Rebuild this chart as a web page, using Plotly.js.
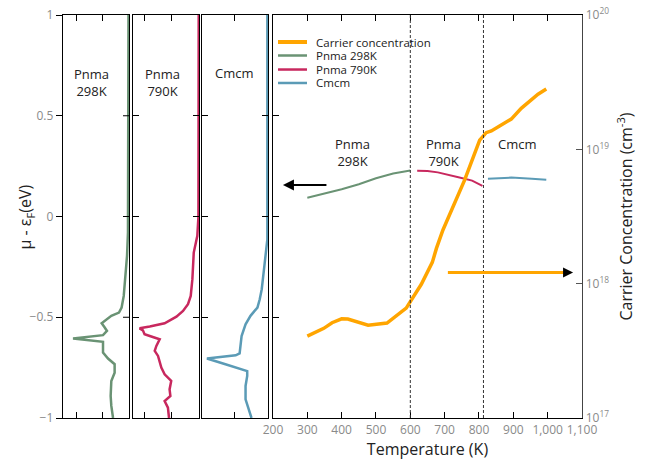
<!DOCTYPE html>
<html>
<head>
<meta charset="utf-8">
<script src="https://cdn.plot.ly/plotly-3.0.1.min.js"></script>
<style>html,body{margin:0;padding:0;background:#fff}</style>
</head>
<body>
<div id="chart" style="width:647px;height:462px"></div>
<script>
// ---- Density of states near the Fermi level (energy in eV, DOS in states/eV) ----
const dosPnma298E = [1, 0.5, 0, -0.08, -0.195, -0.295, -0.394, -0.452, -0.477, -0.493, -0.518, -0.53, -0.551, -0.568, -0.589, -0.606, -0.622, -0.675, -0.705, -0.733, -0.775, -0.816, -0.891, -0.94, -1.0];
const dosPnma298 = [0.04, 0.04, 0.05, 0.08, 0.15, 0.28, 0.40, 0.56, 0.76, 1.34, 1.84, 2.07, 1.84, 1.67, 1.97, 4.24, 1.97, 1.97, 1.59, 1.09, 1.09, 1.34, 1.39, 1.34, 1.21];

const dosPnma790E = [1, 0.5, 0, -0.096, -0.179, -0.311, -0.394, -0.435, -0.469, -0.497, -0.53, -0.546, -0.555, -0.565, -0.584, -0.593, -0.609, -0.642, -0.667, -0.692, -0.75, -0.783, -0.816, -0.858, -0.891, -0.916, -0.949, -1.0];
const dosPnma790 = [0.01, 0.015, 0.02, 0.06, 0.19, 0.24, 0.30, 0.40, 0.58, 0.82, 1.25, 1.79, 2.16, 2.04, 1.98, 1.79, 1.43, 1.55, 1.61, 1.49, 1.37, 1.25, 1.01, 1.07, 1.04, 1.25, 1.13, 1.09];

const dosCmcmE = [1, 0.5, 0, -0.113, -0.245, -0.361, -0.411, -0.452, -0.493, -0.535, -0.593, -0.642, -0.679, -0.689, -0.705, -0.733, -0.767, -0.791, -0.841, -0.907, -0.957, -1.0];
const dosCmcm = [0.02, 0.015, 0.01, 0.02, 0.11, 0.19, 0.25, 0.32, 0.53, 0.68, 0.80, 0.83, 0.86, 0.98, 1.85, 1.29, 0.63, 0.63, 0.68, 0.68, 0.58, 0.50];

// ---- Chemical potential μ − εF versus temperature (K, eV) ----
const muPnma298T = [300, 350, 400, 450, 500, 550, 600];
const muPnma298 = [0.093, 0.113, 0.135, 0.16, 0.19, 0.213, 0.228];
const muPnma790T = [620, 650, 680, 710, 740, 780, 810];
const muPnma790 = [0.227, 0.226, 0.219, 0.208, 0.195, 0.178, 0.152];
const muCmcmT = [826, 877, 894, 954, 996];
const muCmcm = [0.187, 0.192, 0.193, 0.187, 0.182];

// ---- Carrier concentration versus temperature (K, cm^-3) ----
const carrierT = [300, 348, 372, 400, 418, 477, 532, 588, 632, 664, 676, 695, 758, 802, 821, 836, 860, 894, 923, 972, 996];
const carrierN = [4.07e17, 4.65e17, 5.12e17, 5.48e17, 5.45e17, 4.90e17, 5.09e17, 6.58e17, 9.89e17, 1.44e18, 1.83e18, 2.51e18, 5.90e18, 1.17e19, 1.33e19, 1.37e19, 1.49e19, 1.68e19, 2.02e19, 2.57e19, 2.81e19];

// Phase boundaries (K)
const phaseBoundaries = [600, 813];

// Energy tick values shared by every panel
const energyTicks = [-1, -0.5, 0, 0.5, 1];

// Series and panel labels
const seriesNames = ['Carrier concentration', 'Pnma 298K', 'Pnma 790K', 'Cmcm'];
const seriesColors = ['#ffa500', '#6a9374', '#c8285e', '#5b9bb6'];
const seriesWidths = [4, 2.5, 2.5, 2.5];
const panelLabels = ['Pnma<br>298K', 'Pnma<br>790K', 'Cmcm'];
const regionLabels = ['Pnma<br>298K', 'Pnma<br>790K', 'Cmcm'];
const regionLabelT = [432, 698, 912];
const regionLabelMu = [0.318, 0.318, 0.36];

// Arrows telling which axis each curve belongs to
const muArrow = {from: 360, to: 229, level: 0.156};
const carrierArrow = {from: 705, to: 1074, level: 1.21e18};

const FONT = 'Open Sans, sans-serif';
const TICKGREY = '#8a8a8a';

const traces = [
  {x: dosPnma298, y: dosPnma298E, xaxis: 'x', yaxis: 'y', mode: 'lines',
   line: {color: seriesColors[1], width: 2.5}, showlegend: false},
  {x: dosPnma790, y: dosPnma790E, xaxis: 'x2', yaxis: 'y2', mode: 'lines',
   line: {color: seriesColors[2], width: 2.5}, showlegend: false},
  {x: dosCmcm, y: dosCmcmE, xaxis: 'x3', yaxis: 'y3', mode: 'lines',
   line: {color: seriesColors[3], width: 2.5}, showlegend: false},
  {x: muPnma298T, y: muPnma298, xaxis: 'x4', yaxis: 'y4', mode: 'lines', name: seriesNames[1],
   line: {color: seriesColors[1], width: 2}, showlegend: false},
  {x: muPnma790T, y: muPnma790, xaxis: 'x4', yaxis: 'y4', mode: 'lines', name: seriesNames[2],
   line: {color: seriesColors[2], width: 2}, showlegend: false},
  {x: muCmcmT, y: muCmcm, xaxis: 'x4', yaxis: 'y4', mode: 'lines', name: seriesNames[3],
   line: {color: seriesColors[3], width: 2}, showlegend: false},
  {x: carrierT, y: carrierN, xaxis: 'x4', yaxis: 'y5', mode: 'lines', name: seriesNames[0],
   line: {color: seriesColors[0], width: 3.5}, showlegend: false}
];

const frame = {showline: true, linecolor: '#000', linewidth: 1.3, showgrid: false, zeroline: false};

// Small density-of-states panels (DOS grows to the left)
function dosX(domain, range, ticks) {
  return Object.assign({}, frame, {domain: domain, range: range, tickvals: ticks, ticks: 'inside',
    ticklen: 6, tickcolor: '#000', mirror: 'ticks', showticklabels: false});
}
function dosY(anchor) {
  return Object.assign({}, frame, {domain: [0, 1], anchor: anchor, range: [-1, 1], tickvals: energyTicks,
    ticks: 'inside', ticklen: 6, tickcolor: '#000', mirror: 'ticks', showticklabels: false});
}

const layout = {
  width: 647, height: 462,
  margin: {l: 63, r: 65, t: 15, b: 44},
  paper_bgcolor: '#fff', plot_bgcolor: '#fff',
  font: {family: FONT, color: '#222', size: 12},
  separators: '.,',
  showlegend: false,
  xaxis: Object.assign(dosX([0, 0.1272], [5, 0], [4, 2]), {anchor: 'y'}),
  xaxis2: Object.assign(dosX([0.1349, 0.2620], [2.4, 0], [2, 1]), {anchor: 'y2'}),
  xaxis3: Object.assign(dosX([0.2678, 0.3950], [2, 0], [1]), {anchor: 'y3'}),
  // Labelled energy scale on the far left
  yaxis: Object.assign({}, frame, {domain: [0, 1], anchor: 'x', side: 'left', range: [-1, 1],
    tickvals: energyTicks, ticks: 'outside', ticklen: 6, tickcolor: '#000', mirror: true,
    tickfont: {family: FONT, size: 12, color: TICKGREY}}),
  yaxis2: dosY('x2'),
  yaxis3: dosY('x3'),
  // Temperature panel
  xaxis4: Object.assign({}, frame, {domain: [0.4046, 1], anchor: 'y4', range: [200, 1100], dtick: 100, tick0: 200,
    ticks: 'inside', ticklen: 6, tickcolor: '#000', mirror: 'ticks', separatethousands: true,
    tickfont: {family: FONT, size: 12, color: TICKGREY},
    title: {text: 'Temperature (K)', font: {family: FONT, size: 16, color: '#222'}, standoff: 6}}),
  yaxis4: Object.assign({}, frame, {domain: [0, 1], anchor: 'x4', range: [-1, 1], tickvals: energyTicks,
    ticks: 'inside', ticklen: 6, tickcolor: '#000', showticklabels: false}),
  yaxis5: {type: 'log', overlaying: 'y4', anchor: 'x4', side: 'right', range: [17, 20],
    tickvals: [1e17, 1e18, 1e19, 1e20],
    ticktext: ['10<sup>17</sup>', '10<sup>18</sup>', '10<sup>19</sup>', '10<sup>20</sup>'],
    ticks: 'inside', ticklen: 6, tickcolor: '#555', showline: true, linecolor: '#444', linewidth: 1.3,
    showgrid: false, zeroline: false,
    tickfont: {family: FONT, size: 12, color: TICKGREY},
    title: {text: 'Carrier Concentration (cm<sup>-3</sup>)', font: {family: FONT, size: 16, color: '#222'}, standoff: 12}},
  shapes: [],
  annotations: []
};

// Energy-axis title, set close to the tick labels
layout.annotations.push({xref: 'paper', yref: 'paper', x: -0.0713, y: 0.5, textangle: -90,
  text: 'μ - ε<sub>F</sub>(eV)', showarrow: false, xanchor: 'center', yanchor: 'middle',
  font: {family: FONT, size: 16, color: '#222'}});

// Inner tick marks on the right edge of the first DOS panel
energyTicks.slice(1, -1).forEach(v => layout.shapes.push({type: 'line', xref: 'x domain', yref: 'y',
  x0: 1 - 6 / 66, x1: 1, y0: v, y1: v, line: {color: '#000', width: 1}}));

// Dotted phase-boundary markers
phaseBoundaries.forEach(t => layout.shapes.push({type: 'line', xref: 'x4', yref: 'y4',
  x0: t, x1: t, y0: -1, y1: 1, line: {color: '#333', width: 1, dash: '3px,2px'}}));

// Hand-built legend in the upper left of the temperature panel
const legendRows = [0.933, 0.8995, 0.8647, 0.8313];
seriesNames.forEach((name, i) => {
  layout.shapes.push({type: 'line', xref: 'paper', yref: 'paper', x0: 0.4143, x1: 0.4701,
    y0: legendRows[i], y1: legendRows[i], line: {color: seriesColors[i], width: seriesWidths[i]}});
  layout.annotations.push({xref: 'paper', yref: 'paper', x: 0.483, y: legendRows[i], text: name,
    showarrow: false, xanchor: 'left', yanchor: 'middle', font: {family: FONT, size: 11.5, color: '#222'}});
});

// Structure labels in the DOS panels
const panelX = [0.054, 0.1917, 0.3314];
const panelY = [0.8325, 0.8325, 0.856];
panelLabels.forEach((t, i) => layout.annotations.push({xref: 'paper', yref: 'paper', x: panelX[i], y: panelY[i],
  text: t, showarrow: false, xanchor: 'center', yanchor: 'middle', font: {family: FONT, size: 13, color: '#222'}}));

// Phase labels in the temperature panel
regionLabels.forEach((t, i) => layout.annotations.push({xref: 'x4', yref: 'y4', x: regionLabelT[i], y: regionLabelMu[i],
  text: t, showarrow: false, xanchor: 'center', yanchor: 'middle', font: {family: FONT, size: 13, color: '#222'}}));

// Arrow pointing to the μ − εF axis
layout.annotations.push({xref: 'x4', yref: 'y4', axref: 'x4', ayref: 'y4', x: muArrow.to, y: muArrow.level,
  ax: muArrow.from, ay: muArrow.level, text: '', showarrow: true, arrowhead: 2, arrowsize: 1.1,
  arrowwidth: 2, arrowcolor: '#000'});

// Arrow pointing to the carrier-concentration axis (orange shaft, black head)
const arrowLog = Math.log10(carrierArrow.level);
layout.annotations.push({xref: 'x4', yref: 'y5', axref: 'x4', ayref: 'y5', x: carrierArrow.to - 8, y: arrowLog,
  ax: carrierArrow.from, ay: arrowLog, text: '', showarrow: true, arrowhead: 0,
  arrowwidth: 3, arrowcolor: seriesColors[0]});
layout.annotations.push({xref: 'x4', yref: 'y5', axref: 'x4', ayref: 'y5', x: carrierArrow.to, y: arrowLog,
  ax: carrierArrow.to - 12, ay: arrowLog, text: '', showarrow: true, arrowhead: 2, arrowsize: 1,
  arrowwidth: 2, arrowcolor: '#000'});

Plotly.newPlot('chart', traces, layout, {displayModeBar: false, staticPlot: true});
</script>
</body>
</html>
